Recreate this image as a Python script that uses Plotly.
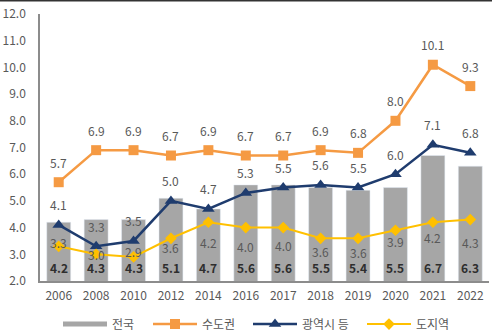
import plotly.graph_objects as go

years = ["2006", "2008", "2010", "2012", "2014", "2016", "2017", "2018", "2019", "2020", "2021", "2022"]
national = [4.2, 4.3, 4.3, 5.1, 4.7, 5.6, 5.6, 5.5, 5.4, 5.5, 6.7, 6.3]
capital = [5.7, 6.9, 6.9, 6.7, 6.9, 6.7, 6.7, 6.9, 6.8, 8.0, 10.1, 9.3]
metro = [4.1, 3.3, 3.5, 5.0, 4.7, 5.3, 5.5, 5.6, 5.5, 6.0, 7.1, 6.8]
province = [3.3, 3.0, 2.9, 3.6, 4.2, 4.0, 4.0, 3.6, 3.6, 3.9, 4.2, 4.3]
y_ticks = [2.0, 3.0, 4.0, 5.0, 6.0, 7.0, 8.0, 9.0, 10.0, 11.0, 12.0]

# label offsets (px) for 도지역 labels (style only)
province_label_shift = [4, 0, 5, -9, -20, -19, -18, -13, -14, -11, -15, -23]

FONT = "Noto Sans CJK KR"
GRAY_TXT = "#595959"
ORANGE = "#F59A43"
NAVY = "#1F3C6E"
YELLOW = "#FFC000"
BAR = "#A6A6A6"

fig = go.Figure()
fig.add_trace(go.Bar(x=years, y=national, marker_color=BAR, width=0.64, showlegend=False, name="전국"))
# legend proxy for bar
fig.add_trace(go.Scatter(x=[years[0]], y=[None], mode="lines", line=dict(color=BAR, width=5),
                         name="전국", legend="legend"))
fig.add_trace(go.Scatter(x=years, y=capital, mode="lines+markers", name="수도권", legend="legend2",
                         line=dict(color=ORANGE, width=2.5),
                         marker=dict(symbol="square", size=10, color=ORANGE)))
fig.add_trace(go.Scatter(x=years, y=metro, mode="lines+markers", name="광역시 등", legend="legend3",
                         line=dict(color=NAVY, width=2.5),
                         marker=dict(symbol="triangle-up", size=11, color=NAVY)))
fig.add_trace(go.Scatter(x=years, y=province, mode="lines+markers", name="도지역", legend="legend4",
                         line=dict(color=YELLOW, width=2),
                         marker=dict(symbol="diamond", size=9, color=YELLOW)))

ann = []
for i, v in enumerate(national):
    ann.append(dict(x=i, y=2.0, text=f"{v:.1f}", showarrow=False, yanchor="middle", yshift=14,
                    font=dict(family=FONT, size=12, color="#2E2E2E", weight="bold")))
for i, v in enumerate(capital):
    ann.append(dict(x=i, y=v, text=f"{v:.1f}", showarrow=False, yanchor="middle", yshift=20,
                    font=dict(family=FONT, size=12, color=GRAY_TXT)))
for i, v in enumerate(metro):
    ann.append(dict(x=i, y=v, text=f"{v:.1f}", showarrow=False, yanchor="middle", yshift=20,
                    font=dict(family=FONT, size=12, color=GRAY_TXT)))
for i, (v, s) in enumerate(zip(province, province_label_shift)):
    ann.append(dict(x=i, y=v, text=f"{v:.1f}", showarrow=False, yanchor="middle", yshift=s,
                    font=dict(family=FONT, size=12, color=GRAY_TXT)))

legend_x_px = [58, 148, 248, 362]
leg_common = dict(orientation="h", xref="container", xanchor="left",
                  yref="container", y=0.024, yanchor="middle", itemwidth=44,
                  font=dict(family=FONT, size=12, color=GRAY_TXT), bgcolor="rgba(0,0,0,0)")
legends = {}
for k, px in enumerate(legend_x_px):
    key = "legend" if k == 0 else f"legend{k + 1}"
    legends[key] = dict(leg_common, x=px / 492)

fig.update_layout(
    width=492, height=332,
    margin=dict(l=40, r=3, t=14, b=51),
    plot_bgcolor="white", paper_bgcolor="white",
    font=dict(family=FONT, size=12, color=GRAY_TXT),
    annotations=ann,
    showlegend=True,
    shapes=[dict(type="line", xref="paper", yref="paper", x0=-1, x1=2,
                 y0=1 + 13.5 / 267, y1=1 + 13.5 / 267, line=dict(color="#333333", width=2))],
    **legends,
)
fig.update_xaxes(type="category", categoryorder="array", categoryarray=years,
                 range=[-0.5, len(years) - 0.5],
                 showline=True, linecolor="#8C8C8C", linewidth=1.5, ticklabelstandoff=3,
                 showgrid=False, ticks="", tickfont=dict(family=FONT, size=12, color=GRAY_TXT))
fig.update_yaxes(range=[2, 12], tickvals=y_ticks, ticktext=[f"{t:.1f}" for t in y_ticks],
                 showline=True, linecolor="#8C8C8C", linewidth=1.5, showgrid=False, zeroline=False,
                 ticks="outside", ticklen=10, tickcolor="rgba(0,0,0,0)",
                 tickfont=dict(family=FONT, size=12, color=GRAY_TXT))

fig.write_html("out.html")
